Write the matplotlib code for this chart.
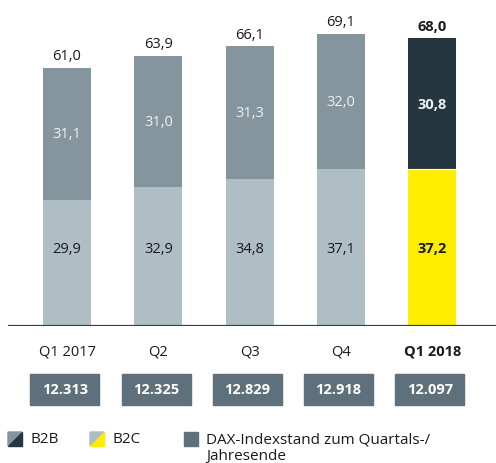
import matplotlib
matplotlib.use("Agg")
from matplotlib import pyplot as plt
from matplotlib.patches import Rectangle, Polygon
from matplotlib.transforms import blended_transform_factory

plt.rcParams['font.family'] = ['Open Sans', 'DejaVu Sans']

# data
quartale = ['Q1 2017', 'Q2', 'Q3', 'Q4', 'Q1 2018']
b2c = [29.9, 32.9, 34.8, 37.1, 37.2]
b2b = [31.1, 31.0, 31.3, 32.0, 30.8]
gesamt = [61.0, 63.9, 66.1, 69.1, 68.0]
dax = ['12.313', '12.325', '12.829', '12.918', '12.097']

# farben
c_b2b = '#84959d'
c_b2c = '#afbdc4'
c_b2b_akt = '#253640'
c_b2c_akt = '#ffed00'
c_dax = '#5e707b'
c_linie = '#2f3f48'

W, H = 496, 464
fig = plt.figure(figsize=(W / 100, H / 100), dpi=100)

# achse in pixeln: balkenmitte 0 bei x=67px, abstand 91.3px
px_x = 91.3
px_y = 4.23
base = 327
ax = fig.add_axes([8 / W, (H - base) / H, 488 / W, base / H])
ax.set_xlim((8 - 67) / px_x, (496 - 67) / px_x)
ax.set_ylim(0, base / px_y)
ax.axis('off')

x = list(range(len(quartale)))
breite = 48 / px_x
farben_c = [c_b2c] * 4 + [c_b2c_akt]
farben_b = [c_b2b] * 4 + [c_b2b_akt]
ax.bar(x, b2c, width=breite, color=farben_c, zorder=2)
ax.bar(x, b2b, bottom=b2c, width=breite, color=farben_b, zorder=2)
ax.hlines(b2c[4], 4 - breite / 2, 4 + breite / 2, color='white', lw=0.8, zorder=3)
ax.axhline(0, color=c_linie, lw=2.3, zorder=3)

fs = 10.5
for i in x:
    fett = 'bold' if i == 4 else 'normal'
    ax.text(i, 18.4, f"{b2c[i]:.1f}".replace('.', ','), ha='center', va='center',
            fontsize=fs, color='#1a1a1a', weight=fett)
    ax.text(i, b2c[i] + b2b[i] / 2, f"{b2b[i]:.1f}".replace('.', ','), ha='center',
            va='center', fontsize=fs, color='#eef1f2', weight=fett)
    ax.annotate(f"{gesamt[i]:.1f}".replace('.', ','), (i, gesamt[i]),
                xytext=(0, 3.5), textcoords='offset points', ha='center', va='bottom',
                fontsize=fs, color='#1a1a1a', weight=fett)

# achsenbeschriftung und DAX-kästen unter der achse
trans = blended_transform_factory(ax.transData, fig.transFigure)
for i in x:
    fett = 'bold' if i == 4 else 'normal'
    ax.text(i, 1 - 352 / H, quartale[i], transform=trans, ha='center', va='center',
            fontsize=fs, color='#1a1a1a', weight=fett)
    bw = 69 / px_x
    ax.add_patch(Rectangle((i - 0.025 - bw / 2, 1 - 406 / H), bw, 31 / H,
                           transform=trans, color=c_dax, clip_on=False))
    ax.text(i - 0.025, 1 - 390.5 / H, dax[i], transform=trans, ha='center',
            va='center', fontsize=fs, color='white', weight='bold')

# legende
def fx(p):
    return p / W

def fy(p):
    return 1 - p / H

def dreieck_icon(x0, y0, c_oben, c_unten, s=14):
    fig.patches.append(Polygon([(fx(x0), fy(y0)), (fx(x0 + s), fy(y0)), (fx(x0), fy(y0 + s))],
                               closed=True, color=c_oben, transform=fig.transFigure))
    fig.patches.append(Polygon([(fx(x0 + s), fy(y0)), (fx(x0 + s), fy(y0 + s)), (fx(x0), fy(y0 + s))],
                               closed=True, color=c_unten, transform=fig.transFigure))

fl = 11
dreieck_icon(8, 433, c_b2b, c_b2b_akt)
fig.text(fx(31), fy(440), 'B2B', va='center', fontsize=fl, color='#1a1a1a')
dreieck_icon(90, 433, c_b2c, c_b2c_akt)
fig.text(fx(113), fy(440), 'B2C', va='center', fontsize=fl, color='#1a1a1a')
fig.patches.append(Rectangle((fx(184), fy(447)), 14 / W, 14 / H, color=c_dax,
                             transform=fig.transFigure))
fig.text(fx(206), fy(440), 'DAX-Indexstand zum Quartals-/', va='center',
         fontsize=fl, color='#1a1a1a')
fig.text(fx(206), fy(457), 'Jahresende', va='center', fontsize=fl, color='#1a1a1a')

plt.savefig('out.png', dpi=100)
